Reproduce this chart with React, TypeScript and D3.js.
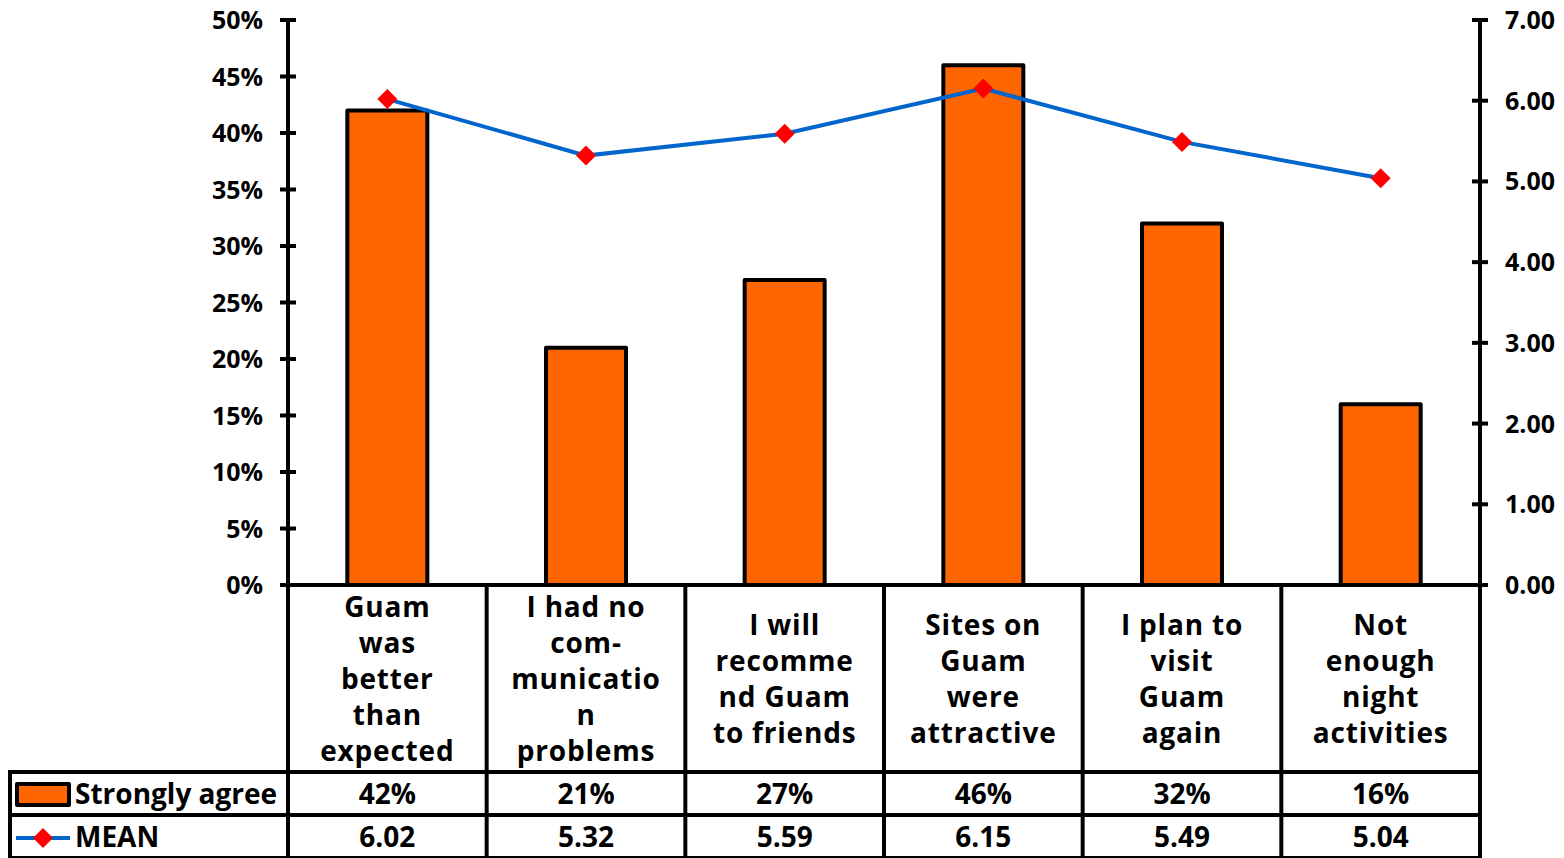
import React from "react";
import * as d3 from "d3";

const categories = [
  ["Guam", "was", "better", "than", "expected"],
  ["I had no", "com-", "municatio", "n", "problems"],
  ["I will", "recomme", "nd Guam", "to friends"],
  ["Sites on", "Guam", "were", "attractive"],
  ["I plan to", "visit", "Guam", "again"],
  ["Not", "enough", "night", "activities"],
];
const stronglyAgree = [42, 21, 27, 46, 32, 16];
const meanValues = [6.02, 5.32, 5.59, 6.15, 5.49, 5.04];
const pctTicks = [0, 5, 10, 15, 20, 25, 30, 35, 40, 45, 50];
const meanTicks = [0, 1, 2, 3, 4, 5, 6, 7];
const seriesNames = ["Strongly agree", "MEAN"];

const W = 1564;
const H = 858;
const FONT = "'Open Sans', Lato, sans-serif";
const ORANGE = "#FF6600";
const BLUE = "#0066CC";
const RED = "#FF0000";

export default function App() {
  const left = 288;
  const right = 1480;
  const top = 20;
  const base = 585;
  const tableTop = 772;
  const rowMid = 815;
  const tableBottom = 858;

  const x = d3
    .scaleBand<number>()
    .domain(categories.map((_, i) => i))
    .range([left, right])
    .paddingInner(0)
    .paddingOuter(0);
  const bw = x.bandwidth();
  const barW = 80;
  const yL = d3.scaleLinear().domain([0, 50]).range([base, top]);
  const yR = d3.scaleLinear().domain([0, 7]).range([base, top]);

  const cx = (i: number) => (x(i) as number) + bw / 2;
  const line = d3
    .line<number>()
    .x((_, i) => cx(i))
    .y((d) => yR(d));

  const diamond = (px: number, py: number, r: number) =>
    `M${px},${py - r}L${px + r},${py}L${px},${py + r}L${px - r},${py}Z`;

  const lw = 4;

  return (
    <svg
      width={W}
      height={H}
      style={{ position: "absolute", left: 0, top: 0, background: "#fff" }}
      fontFamily={FONT}
      fontWeight="bold"
    >
      {/* bars */}
      {stronglyAgree.map((v, i) => (
        <rect
          key={"b" + i}
          x={cx(i) - barW / 2}
          y={yL(v)}
          width={barW}
          height={base - yL(v)}
          fill={ORANGE}
          stroke="#000"
          strokeWidth={4}
          strokeLinejoin="round"
        />
      ))}

      {/* mean line */}
      <path d={line(meanValues) || ""} fill="none" stroke={BLUE} strokeWidth={4} />
      {meanValues.map((v, i) => (
        <path key={"m" + i} d={diamond(cx(i), yR(v), 10)} fill={RED} />
      ))}

      {/* left axis */}
      <line x1={left} x2={left} y1={top} y2={tableBottom} stroke="#000" strokeWidth={lw} />
      {pctTicks.map((t) => (
        <g key={"lt" + t}>
          <line x1={left - 8} x2={left + 8} y1={yL(t)} y2={yL(t)} stroke="#000" strokeWidth={lw} />
          <text x={263} y={yL(t)} dy="0.36em" textAnchor="end" fontSize={25}>
            {t + "%"}
          </text>
        </g>
      ))}

      {/* right axis */}
      <line x1={right} x2={right} y1={top} y2={tableBottom} stroke="#000" strokeWidth={lw} />
      {meanTicks.map((t) => (
        <g key={"rt" + t}>
          <line x1={right - 8} x2={right + 8} y1={yR(t)} y2={yR(t)} stroke="#000" strokeWidth={lw} />
          <text x={1505} y={yR(t)} dy="0.36em" textAnchor="start" fontSize={25}>
            {t.toFixed(2)}
          </text>
        </g>
      ))}

      {/* baseline */}
      <line x1={left - 8} x2={right + 8} y1={base} y2={base} stroke="#000" strokeWidth={lw} />

      {/* table grid */}
      {categories.map((_, i) =>
        i > 0 ? (
          <line
            key={"v" + i}
            x1={x(i) as number}
            x2={x(i) as number}
            y1={base}
            y2={tableBottom}
            stroke="#000"
            strokeWidth={lw}
          />
        ) : null
      )}
      <line x1={8} x2={right} y1={tableTop} y2={tableTop} stroke="#000" strokeWidth={lw} />
      <line x1={8} x2={right} y1={rowMid} y2={rowMid} stroke="#000" strokeWidth={lw} />
      <line x1={8} x2={right} y1={tableBottom} y2={tableBottom} stroke="#000" strokeWidth={lw} />
      <line x1={10} x2={10} y1={tableTop} y2={tableBottom} stroke="#000" strokeWidth={lw} />

      {/* category labels */}
      {categories.map((lines, i) => {
        const lh = 36;
        const mid = (base + tableTop) / 2;
        const start = mid - ((lines.length - 1) * lh) / 2;
        return (
          <text key={"c" + i} textAnchor="middle" fontSize={28} letterSpacing={0.8}>
            {lines.map((s, j) => (
              <tspan key={j} x={cx(i)} y={start + j * lh} dy="0.36em">
                {s}
              </tspan>
            ))}
          </text>
        );
      })}

      {/* table values */}
      {stronglyAgree.map((v, i) => (
        <text key={"tv" + i} x={cx(i)} y={(tableTop + rowMid) / 2} dy="0.36em" textAnchor="middle" fontSize={28}>
          {v + "%"}
        </text>
      ))}
      {meanValues.map((v, i) => (
        <text key={"tm" + i} x={cx(i)} y={(rowMid + tableBottom) / 2} dy="0.36em" textAnchor="middle" fontSize={28}>
          {v.toFixed(2)}
        </text>
      ))}

      {/* legend keys */}
      <rect x={17} y={784} width={52} height={21} fill={ORANGE} stroke="#000" strokeWidth={4} strokeLinejoin="round" />
      <text x={75} y={(tableTop + rowMid) / 2} dy="0.36em" fontSize={28}>
        {seriesNames[0]}
      </text>
      <line x1={16} x2={70} y1={838} y2={838} stroke={BLUE} strokeWidth={4} />
      <path d={diamond(43, 838, 10)} fill={RED} />
      <text x={75} y={(rowMid + tableBottom) / 2} dy="0.36em" fontSize={28}>
        {seriesNames[1]}
      </text>
    </svg>
  );
}
